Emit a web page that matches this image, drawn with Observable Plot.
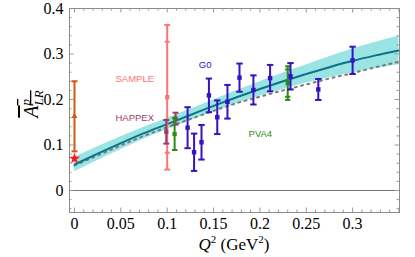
<!DOCTYPE html>
<html><head><meta charset="utf-8">
<script src="https://cdn.jsdelivr.net/npm/d3@7"></script>
<script src="https://cdn.jsdelivr.net/npm/@observablehq/plot@0.6"></script>
<style>body{margin:0;background:#fff} svg{display:block}</style>
</head><body><div id="chart"></div>
<script>
// ---- theory curve
const curveQ   = [0, 0.025, 0.05, 0.075, 0.1, 0.125, 0.15, 0.175, 0.2, 0.225, 0.25, 0.275, 0.3, 0.325, 0.35];
const curveA   = [0.057, 0.081, 0.104, 0.126, 0.146, 0.166, 0.186, 0.205, 0.223, 0.240, 0.256, 0.271, 0.285, 0.297, 0.308];
const bandLo   = [0.041, 0.066, 0.090, 0.113, 0.1335, 0.1535, 0.173, 0.1905, 0.207, 0.222, 0.236, 0.248, 0.259, 0.268, 0.2765];
const bandHi   = [0.073, 0.096, 0.118, 0.139, 0.1585, 0.1785, 0.199, 0.2195, 0.239, 0.258, 0.276, 0.294, 0.311, 0.326, 0.3395];
const dottedA  = [0.055, 0.077, 0.099, 0.120, 0.139, 0.157, 0.175, 0.192, 0.206, 0.220, 0.233, 0.246, 0.258, 0.271, 0.283];

// ---- experiments
const g0Q = [0.122, 0.129, 0.137, 0.145, 0.154, 0.165, 0.178, 0.193, 0.211, 0.233, 0.263, 0.300];
const g0A = [0.138, 0.084, 0.106, 0.209, 0.161, 0.195, 0.248, 0.221, 0.247, 0.251, 0.222, 0.286];
const g0E = [0.045, 0.041, 0.038, 0.037, 0.037, 0.037, 0.031, 0.032, 0.029, 0.029, 0.023, 0.030];

const happexQ = [0.099, 0.109];
const happexA = [0.129, 0.158];
const happexE = [0.026, 0.013];

const sampleQ = [0.100];
const sampleA = [0.205];
const sampleStat = [0.122];
const sampleTot  = [0.159];

const pva4Q = [0.108, 0.230];
const pva4A = [0.124, 0.236];
const pva4Stat = [0.035, 0.030];
const pva4Tot  = [0.035, 0.037];

const zeroQ = [0];
const zeroA = [0.163];
const zeroE = [0.077];
const starQ = [0];
const starA = [0.070];

const xTicks = [0, 0.05, 0.1, 0.15, 0.2, 0.25, 0.3];
const yTicks = [0, 0.1, 0.2, 0.3, 0.4];

const labelText = ["SAMPLE", "HAPPEX", "G0", "PVA4"];
const labelQ = [0.065, 0.065, 0.141, 0.2005];
const labelA = [0.246, 0.160, 0.277, 0.125];

// ---- colours
const C = {band:"#9be4e4", line:"#0b7487", dot:"#7a7a7a", g0:"#3612c2", happex:"#9a3a6e",
  sample:"#ff7373", pva4:"#2c8c12", zero:"#cf5a0c", star:"#ff1a1a", frame:"#8c8c8c"};

const curve = curveQ.map((q,i)=>({q, a:curveA[i], lo:bandLo[i], hi:bandHi[i], d:dottedA[i]}));
const mk = (Q,A,E)=>Q.map((q,i)=>({q, a:A[i], e:E[i]}));
const g0 = mk(g0Q,g0A,g0E);
const happex = mk(happexQ,happexA,happexE);
const sample = sampleQ.map((q,i)=>({q,a:sampleA[i],s:sampleStat[i],e:sampleTot[i]}));
const pva4 = pva4Q.map((q,i)=>({q,a:pva4A[i],s:pva4Stat[i],e:pva4Tot[i]}));
const zero = mk(zeroQ,zeroA,zeroE);
const star = starQ.map((q,i)=>({q,a:starA[i]}));
const labels = labelText.map((t,i)=>({t,q:labelQ[i],a:labelA[i]}));
const labelColor = [C.sample, C.happex, C.g0, C.pva4];

const cap = {draw(ctx, size){ const w = Math.sqrt(size/Math.PI); ctx.moveTo(-w,0); ctx.lineTo(w,0);} };

function errbar(data, color, w, capR){
  return [
    Plot.ruleX(data, {x:"q", y1:d=>d.a-d.e, y2:d=>d.a+d.e, stroke:color, strokeWidth:w}),
    Plot.dot(data, {x:"q", y:d=>d.a+d.e, symbol:cap, r:capR, stroke:color, strokeWidth:2, fill:"none"}),
    Plot.dot(data, {x:"q", y:d=>d.a-d.e, symbol:cap, r:capR, stroke:color, strokeWidth:2, fill:"none"})
  ];
}
function statcaps(data, color, capR){
  return [
    Plot.dot(data, {x:"q", y:d=>d.a+d.s, symbol:cap, r:capR, stroke:color, strokeWidth:2, fill:"none"}),
    Plot.dot(data, {x:"q", y:d=>d.a-d.s, symbol:cap, r:capR, stroke:color, strokeWidth:2, fill:"none"})
  ];
}

const W=415, H=257, mL=69, mR=16, mT=8, mB=45;
const FH = H-mT-mB, FW = W-mL-mR;
const xMinor = d3.range(0, 0.351, 0.01).filter(v=>Math.abs(v*20-Math.round(v*20))>1e-6);
const yMinor = d3.range(-0.04, 0.401, 0.02).filter(v=>Math.abs(v*10-Math.round(v*10))>1e-6);
const xMaj = [...xTicks, 0.35];
const tc = "#9a9a9a";

const plot = Plot.plot({
  width: W, height: H, marginLeft: mL, marginRight: mR, marginTop: mT, marginBottom: mB,
  x: {domain: [-0.0054, 0.3506], axis: null},
  y: {domain: [-0.0484, 0.4], axis: null},
  style: {background: "#fff"},
  marks: [
    Plot.areaY(curve, {x:"q", y1:"lo", y2:"hi", fill:C.band, curve:"monotone-x"}),
    Plot.ruleY([0], {stroke:"#777", strokeWidth:1}),
    Plot.lineY(curve, {x:"q", y:"d", stroke:C.dot, strokeWidth:2, strokeDasharray:"2,4.5", curve:"monotone-x"}),
    Plot.lineY(curve, {x:"q", y:"a", stroke:C.line, strokeWidth:2, curve:"monotone-x"}),
    // frame ticks
    Plot.ruleX(xMaj, {stroke:tc, insetTop: FH-4.5}),
    Plot.ruleX(xMaj, {stroke:tc, insetBottom: FH-4.5}),
    Plot.ruleX(xMinor, {stroke:tc, insetTop: FH-2.5}),
    Plot.ruleX(xMinor, {stroke:tc, insetBottom: FH-2.5}),
    Plot.ruleY(yTicks, {stroke:tc, insetRight: FW-4.5}),
    Plot.ruleY(yTicks, {stroke:tc, insetLeft: FW-4.5}),
    Plot.ruleY(yMinor, {stroke:tc, insetRight: FW-2.5}),
    Plot.ruleY(yMinor, {stroke:tc, insetLeft: FW-2.5}),
    Plot.frame({stroke:C.frame}),
    Plot.axisX({ticks: xTicks, tickSize: 0, tickPadding: 5, tickFormat: d=>String(d),
      fontFamily:"Liberation Serif", fontSize:16, label:null, anchor:"bottom"}),
    Plot.axisY({ticks: yTicks, tickSize: 0, tickPadding: 6, tickFormat: d=>String(d),
      fontFamily:"Liberation Serif", fontSize:16, label:null, anchor:"left"}),
    // data
    ...errbar(zero, C.zero, 2, 3),
    Plot.dot(zero, {x:"q", y:"a", symbol:"triangle", r:2.2, fill:C.zero}),
    Plot.dot(star, {x:"q", y:"a", symbol:"star", r:3.6, fill:C.star}),
    ...errbar(sample, C.sample, 2, 3),
    ...statcaps(sample, C.sample, 2.5),
    Plot.dot(sample, {x:"q", y:"a", symbol:"square", r:2.4, fill:C.sample}),
    ...errbar(happex, C.happex, 2, 3),
    Plot.dot(happex, {x:"q", y:"a", symbol:"square", r:2.4, fill:C.happex}),
    ...errbar(pva4, C.pva4, 2, 2.6),
    ...statcaps(pva4, C.pva4, 2.6),
    Plot.dot(pva4, {x:"q", y:"a", symbol:"square", r:2.4, fill:C.pva4}),
    ...errbar(g0, C.g0, 2, 3.2),
    Plot.dot(g0, {x:"q", y:"a", symbol:"square", r:2.5, fill:C.g0}),
    Plot.text(labels, {x:"q", y:"a", text:"t", fill:(d,i)=>labelColor[i], fontFamily:"Liberation Sans", fontSize:9.5})
  ]
});

const svg = d3.select(plot);
// x axis label
const xl = svg.append("text").attr("x", 234).attr("y", 250).attr("text-anchor","middle")
  .attr("font-family","Liberation Serif").attr("font-size",17).attr("fill","#000");
xl.append("tspan").attr("font-style","italic").text("Q");
xl.append("tspan").attr("font-size",11).attr("dy",-7).text("2");
xl.append("tspan").attr("dy",7).text(" (GeV");
xl.append("tspan").attr("font-size",11).attr("dy",-7).text("2");
xl.append("tspan").attr("dy",7).text(")");
// y axis label
const yl = svg.append("text").attr("transform","translate(38,104) rotate(-90)").attr("text-anchor","middle")
  .attr("font-family","Liberation Serif").attr("font-size",20).attr("fill","#000")
  .attr("text-decoration","overline");
yl.append("tspan").attr("font-style","italic").text("A");
yl.append("tspan").attr("font-style","italic").attr("font-size",13).attr("dy",-8).text("p");
yl.append("tspan").attr("font-style","italic").attr("font-size",13).attr("dx",-6.5).attr("dy",13).text("LR");

document.getElementById("chart").appendChild(plot);
</script></body></html>
